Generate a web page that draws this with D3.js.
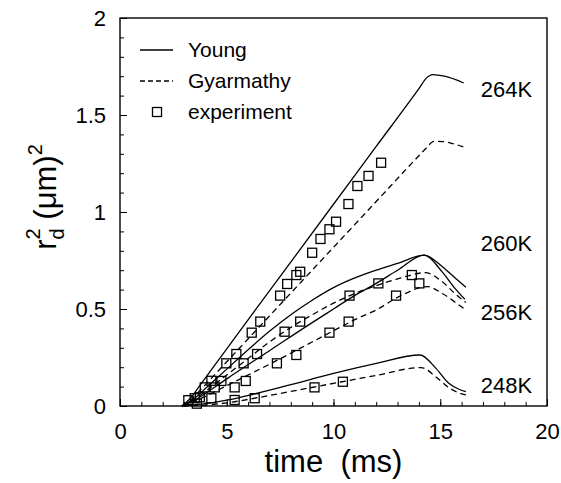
<!DOCTYPE html>
<html>
<head>
<meta charset="utf-8">
<script src="https://cdn.jsdelivr.net/npm/d3@7"></script>
<style>
  body { margin: 0; background: #fff; }
  text { font-family: "Liberation Sans", Arial, sans-serif; fill: #000; }
</style>
</head>
<body>
<div id="chart"></div>
<script>
// tick values
const xTicks = [0, 5, 10, 15, 20];
const yTicks = [0, 0.5, 1, 1.5, 2];
const yTickLabels = ["0", "0.5", "1", "1.5", "2"];

// model curves, [time (ms), rd^2 (um^2)]
const young264 = [[2.9,0],[3.3,0.04],[3.7,0.1],[5,0.295],[7,0.593],[10,1.04],[12,1.338],[14.0,1.636],[14.35,1.69],[14.65,1.708],[15.2,1.70],[16.1,1.665]];
const gyar264 = [[2.9,0],[3.3,0.03],[3.7,0.075],[5,0.228],[7,0.464],[10,0.818],[12,1.054],[14.0,1.29],[14.35,1.33],[14.7,1.364],[15.1,1.363],[15.6,1.352],[16.1,1.335]];
const young260 = [[2.9,0],[3.5,0.04],[4,0.09],[5,0.19],[6,0.29],[7,0.385],[8,0.47],[9,0.545],[10,0.61],[11,0.66],[12,0.70],[13,0.735],[14.25,0.778],[15.1,0.718],[15.7,0.66],[16.2,0.612]];
const gyar260 = [[2.9,0],[3.5,0.035],[4,0.075],[5,0.16],[6,0.245],[7,0.33],[8,0.405],[9,0.47],[10,0.53],[11,0.58],[12,0.62],[13,0.655],[14.3,0.687],[15.1,0.64],[15.7,0.578],[16.2,0.533]];
const young256 = [[2.9,0],[3.5,0.03],[4,0.065],[5,0.14],[7,0.285],[9,0.43],[10,0.50],[11,0.57],[12,0.632],[13,0.70],[14.25,0.778],[15.1,0.69],[15.7,0.605],[16.15,0.55]];
const gyar256 = [[2.9,0],[3.5,0.025],[4,0.05],[5,0.105],[7,0.215],[9,0.33],[10,0.388],[11,0.445],[12,0.495],[13,0.56],[14.4,0.615],[15.1,0.58],[15.7,0.535],[16.2,0.495]];
const young248 = [[2.9,0],[4,0.012],[5,0.03],[6.3,0.062],[8,0.11],[10,0.168],[12,0.22],[14.05,0.263],[14.8,0.194],[15.4,0.117],[15.9,0.085],[16.2,0.074]];
const gyar248 = [[2.9,0],[4,0.005],[5,0.016],[6.3,0.04],[8,0.075],[10.4,0.125],[12,0.158],[14.1,0.198],[14.8,0.15],[15.4,0.095],[15.9,0.066],[16.2,0.057]];

// experiment points
const exp264 = [[3.2,0.03],[3.74,0.045],[4.28,0.13],[4.98,0.22],[5.45,0.268],[6.17,0.378],[6.57,0.435],[7.5,0.569],[7.83,0.629],[8.26,0.675],[8.44,0.692],[9.0,0.79],[9.39,0.861],[9.81,0.911],[10.12,0.95],[10.7,1.041],[11.12,1.134],[11.64,1.186],[12.23,1.254]];
const exp260 = [[3.5,0.04],[3.97,0.096],[4.75,0.129],[5.79,0.22],[6.42,0.268],[7.71,0.383],[8.44,0.435],[10.75,0.569],[12.1,0.632],[13.67,0.675]];
const exp256 = [[4.28,0.04],[4.44,0.096],[5.37,0.096],[5.89,0.129],[7.35,0.22],[8.26,0.263],[9.81,0.378],[10.71,0.435],[12.93,0.569],[14.02,0.632]];
const exp248 = [[3.6,0.012],[5.37,0.031],[6.31,0.04],[9.11,0.096],[10.44,0.125]];

// temperature labels and where they sit (data units)
const tempLabels = ["264K", "260K", "256K", "248K"];
const tempLabelT = [16.9, 16.9, 16.9, 16.9];
const tempLabelY = [1.634, 0.84, 0.485, 0.108];

const legendNames = ["Young", "Gyarmathy", "experiment"];

const width = 561, height = 483;
const marginTop = 18, marginRight = 14, marginBottom = 77, marginLeft = 120;

const svg = d3.select("#chart").append("svg")
    .attr("width", width)
    .attr("height", height);

const x = d3.scaleLinear([0, 20], [marginLeft, width - marginRight]);
const y = d3.scaleLinear([0, 2], [height - marginBottom, marginTop]);

// frame
svg.append("rect")
    .attr("x", marginLeft).attr("y", marginTop)
    .attr("width", width - marginLeft - marginRight)
    .attr("height", height - marginTop - marginBottom)
    .attr("fill", "none").attr("stroke", "#000").attr("stroke-width", 1.4);

// minor ticks
svg.append("g")
    .attr("transform", `translate(0,${height - marginBottom})`)
    .call(d3.axisBottom(x).tickValues(d3.range(0, 21, 1)).tickSize(-4).tickFormat(""))
    .call(g => g.select(".domain").remove());
svg.append("g")
    .attr("transform", `translate(${marginLeft},0)`)
    .call(d3.axisLeft(y).tickValues(d3.range(0, 2.01, 0.1)).tickSize(-4).tickFormat(""))
    .call(g => g.select(".domain").remove());

// major ticks + labels
svg.append("g")
    .attr("transform", `translate(0,${height - marginBottom})`)
    .call(d3.axisBottom(x).tickValues(xTicks).tickSizeInner(-7).tickPadding(17))
    .call(g => g.select(".domain").remove())
    .call(g => g.selectAll("text").attr("font-size", 22).attr("font-family", "Liberation Sans, Arial, sans-serif"));
svg.append("g")
    .attr("transform", `translate(${marginLeft},0)`)
    .call(d3.axisLeft(y).tickValues(yTicks).tickSizeInner(-7).tickPadding(14)
        .tickFormat((d, i) => yTickLabels[i]))
    .call(g => g.select(".domain").remove())
    .call(g => g.selectAll("text").attr("font-size", 22).attr("font-family", "Liberation Sans, Arial, sans-serif"));
svg.selectAll(".tick line").attr("stroke", "#000").attr("stroke-width", 1);

// curves
const line = d3.line()
    .x(d => x(d[0]))
    .y(d => y(d[1]))
    .curve(d3.curveMonotoneX);

const youngSeries = [young264, young260, young256, young248];
const gyarSeries = [gyar264, gyar260, gyar256, gyar248];

svg.append("g").selectAll("path")
    .data(youngSeries)
    .join("path")
    .attr("fill", "none")
    .attr("stroke", "#000")
    .attr("stroke-width", 1.3)
    .attr("d", line);

svg.append("g").selectAll("path")
    .data(gyarSeries)
    .join("path")
    .attr("fill", "none")
    .attr("stroke", "#000")
    .attr("stroke-width", 1.3)
    .attr("stroke-dasharray", "6,4")
    .attr("d", line);

// experiment squares
const sq = 9;
const expAll = [].concat(exp264, exp260, exp256, exp248);
svg.append("g").selectAll("rect")
    .data(expAll)
    .join("rect")
    .attr("x", d => x(d[0]) - sq / 2)
    .attr("y", d => y(d[1]) - sq / 2)
    .attr("width", sq).attr("height", sq)
    .attr("fill", "none")
    .attr("stroke", "#000")
    .attr("stroke-width", 1.3);

// temperature labels
svg.append("g").selectAll("text")
    .data(tempLabels)
    .join("text")
    .attr("x", (d, i) => x(tempLabelT[i]))
    .attr("y", (d, i) => y(tempLabelY[i]))
    .attr("dy", "0.35em")
    .attr("font-size", 22)
    .text(d => d);

// legend
const legend = svg.append("g").attr("transform", "translate(140,50)");
legendNames.forEach((name, i) => {
    const row = legend.append("g").attr("transform", `translate(0,${i * 31})`);
    if (i < 2) {
        row.append("line")
            .attr("x1", 0).attr("x2", 33)
            .attr("stroke", "#000").attr("stroke-width", 1.3)
            .attr("stroke-dasharray", i === 1 ? "5,3" : null);
    } else {
        row.append("rect")
            .attr("x", 17 - sq / 2).attr("y", -sq / 2)
            .attr("width", sq).attr("height", sq)
            .attr("fill", "none").attr("stroke", "#000").attr("stroke-width", 1.3);
    }
    row.append("text")
        .attr("x", 48)
        .attr("dy", "0.35em")
        .attr("font-size", 21)
        .text(name);
});

// axis titles
svg.append("text")
    .attr("x", (marginLeft + width - marginRight) / 2)
    .attr("y", 472)
    .attr("text-anchor", "middle")
    .attr("font-size", 31)
    .attr("xml:space", "preserve")
    .text("time  (ms)");

const yt = svg.append("text")
    .attr("transform", "translate(56,197) rotate(-90)")
    .attr("text-anchor", "middle")
    .attr("font-size", 31);
yt.append("tspan").text("r");
yt.append("tspan").attr("font-size", 20).attr("dy", 8).text("d");
yt.append("tspan").attr("font-size", 20).attr("dx", -11).attr("dy", -24).text("2");
yt.append("tspan").attr("dy", 16).text("\u00a0(\u03bcm)");
yt.append("tspan").attr("font-size", 20).attr("dy", -14).text("2");
</script>
</body>
</html>
